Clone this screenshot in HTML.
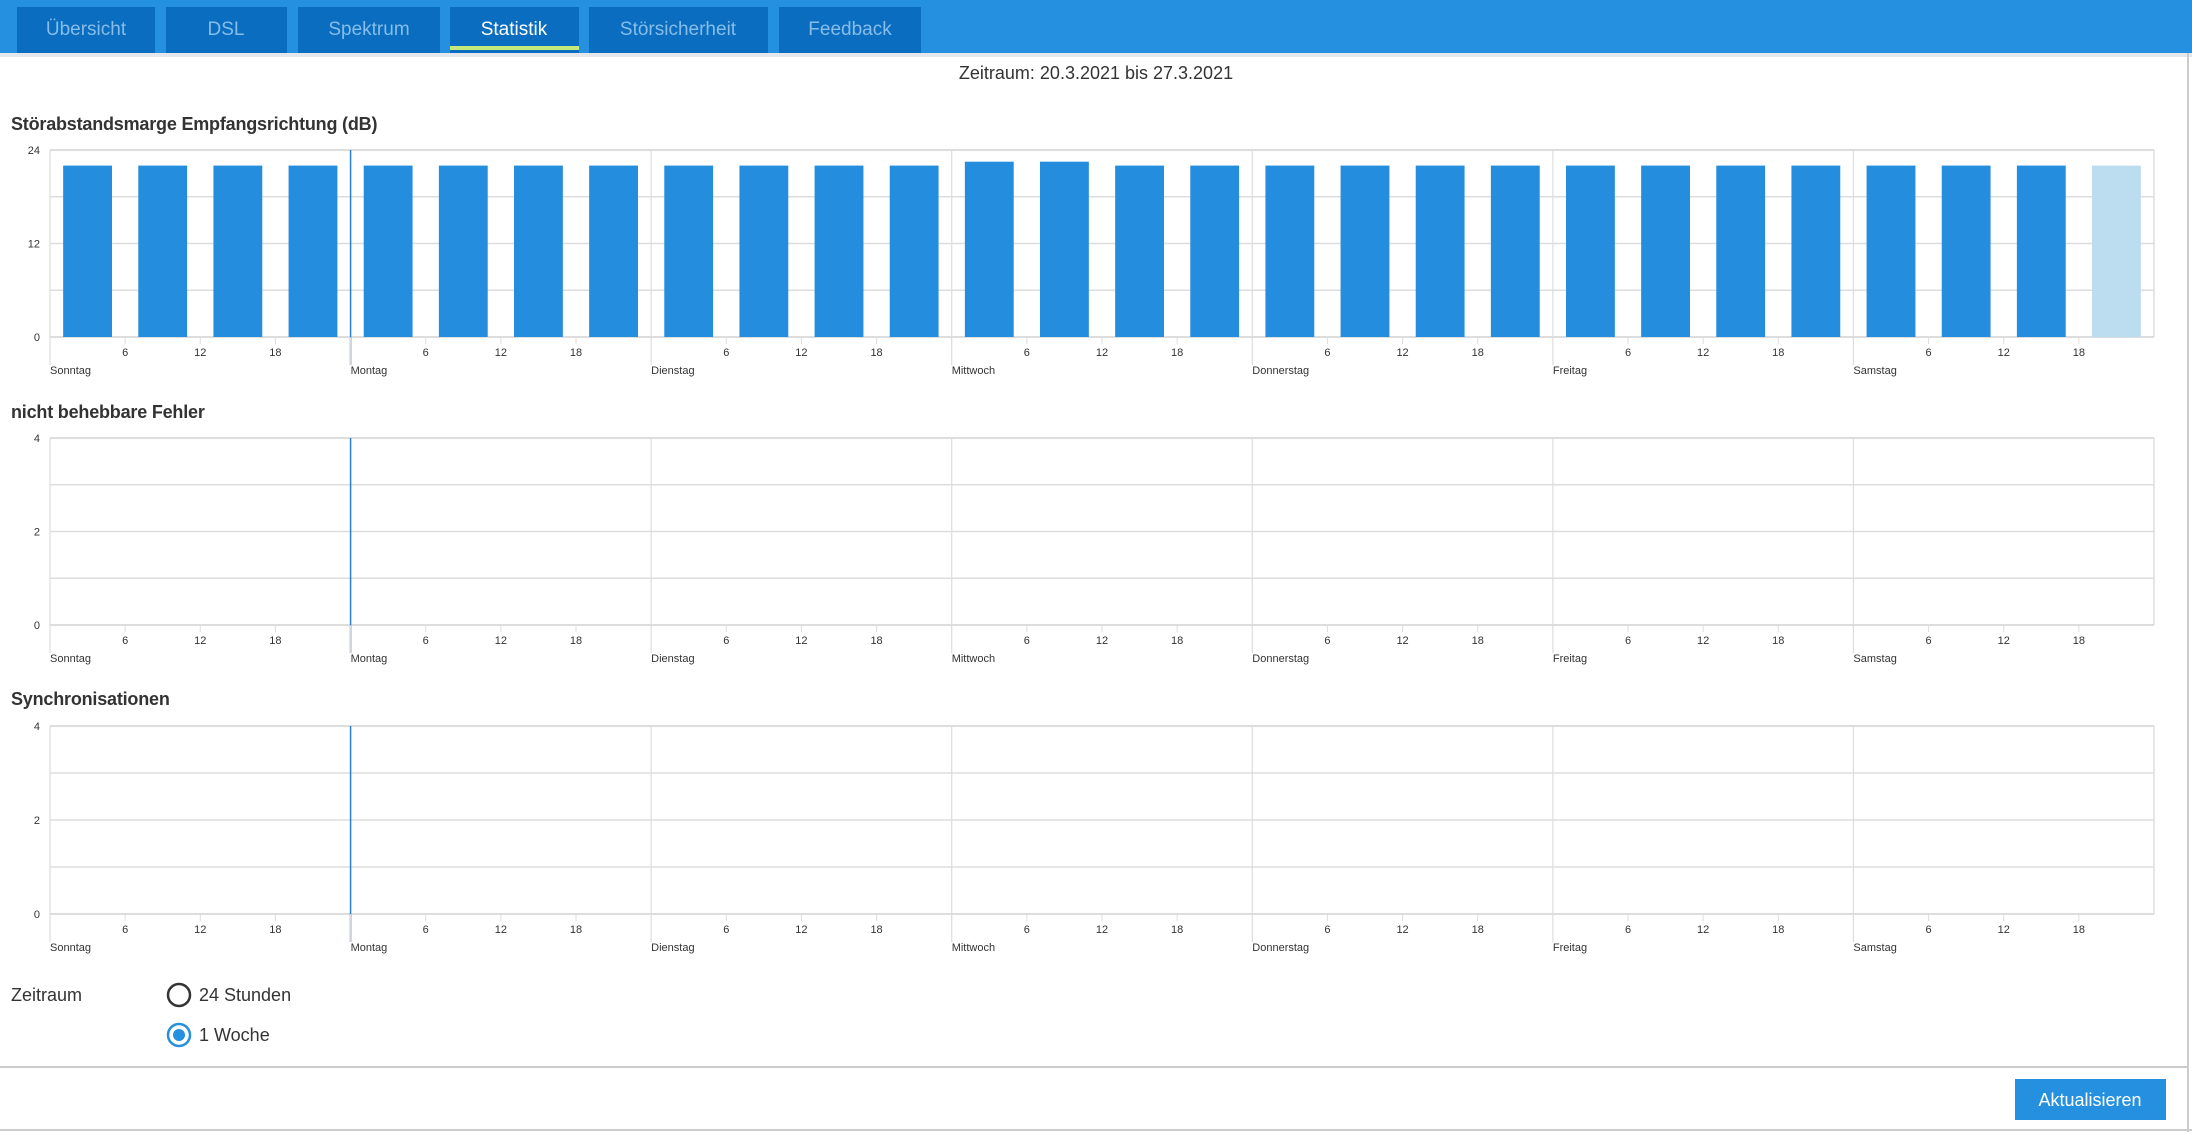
<!DOCTYPE html>
<html><head><meta charset="utf-8"><style>
body{margin:0;width:2192px;height:1132px;overflow:hidden;background:#fff;font-family:"Liberation Sans",sans-serif}
</style></head><body>
<svg width="2192" height="1132" xmlns="http://www.w3.org/2000/svg" font-family="Liberation Sans, sans-serif">
<rect x="0" y="0" width="2192" height="53" fill="#2590df"/>
<rect x="0" y="53" width="2192" height="4" fill="#e4e8ec"/>
<g fill="#0a6dbf">
<rect x="17" y="7" width="138" height="46"/><rect x="166" y="7" width="121" height="46"/>
<rect x="298" y="7" width="142" height="46"/><rect x="450" y="7" width="129" height="46"/>
<rect x="589" y="7" width="179" height="46"/><rect x="779" y="7" width="142" height="46"/>
</g>
<rect x="450" y="46" width="129" height="4" fill="#c5e87a"/>
<g font-size="19" fill="#86bde9" text-anchor="middle">
<text x="86" y="35">Übersicht</text><text x="226" y="35">DSL</text><text x="369" y="35">Spektrum</text>
<text x="514" y="35" fill="#fff">Statistik</text><text x="678" y="35">Störsicherheit</text><text x="850" y="35">Feedback</text>
</g>
<text x="1096" y="79" font-size="18" fill="#333" text-anchor="middle">Zeitraum: 20.3.2021 bis 27.3.2021</text>
<line x1="2188" y1="53" x2="2188" y2="1132" stroke="#ccc" stroke-width="2"/>
<g font-size="18" font-weight="bold" fill="#333" letter-spacing="-0.2">
<text x="11" y="130">Störabstandsmarge Empfangsrichtung (dB)</text>
<text x="11" y="418">nicht behebbare Fehler</text>
<text x="11" y="705">Synchronisationen</text>
</g>
<g id="charts"></g>
<text x="11" y="1001" font-size="18" fill="#333">Zeitraum</text>
<circle cx="179" cy="995" r="11" fill="none" stroke="#333" stroke-width="2.5"/>
<text x="199" y="1001" font-size="18" fill="#333">24 Stunden</text>
<circle cx="179" cy="1035" r="11" fill="none" stroke="#2590df" stroke-width="2.5"/>
<circle cx="179" cy="1035" r="6" fill="#2590df"/>
<text x="199" y="1041" font-size="18" fill="#333">1 Woche</text>
<line x1="0" y1="1067" x2="2188" y2="1067" stroke="#ccc" stroke-width="2"/>
<rect x="2015" y="1079" width="151" height="41" fill="#2590df"/>
<text x="2090" y="1106" font-size="18" fill="#fff" text-anchor="middle">Aktualisieren</text>
<line x1="0" y1="1130" x2="2192" y2="1130" stroke="#ccc" stroke-width="2"/>
</svg>
<script>
var ns="http://www.w3.org/2000/svg",g=document.getElementById("charts");
function el(t,a,txt){var e=document.createElementNS(ns,t);for(var k in a)e.setAttribute(k,a[k]);if(txt!==undefined)e.textContent=txt;g.appendChild(e);return e;}
var X0=50,X1=2154,DW=(X1-X0)/7,days=["Sonntag","Montag","Dienstag","Mittwoch","Donnerstag","Freitag","Samstag"];
var charts=[[150,337,["24","12","0"],true],[438,625,["4","2","0"],false],[726,914,["4","2","0"],false]];
charts.forEach(function(c){
 var t=c[0],b=c[1],h=b-t;
 for(var i=0;i<5;i++){var y=t+h*i/4;el("line",{x1:X0,x2:X1,y1:y,y2:y,stroke:"#ddd","stroke-width":i==0||i==4?2:1.5});}
 el("line",{x1:X1,x2:X1,y1:t,y2:b,stroke:"#ddd","stroke-width":1.5});
 for(var i=0;i<3;i++)el("text",{x:40,y:t+h*i/2+4,"font-size":11,fill:"#333","text-anchor":"end"},c[2][i]);
 for(var d=0;d<7;d++){
  var dx=X0+d*DW;
  el("line",{x1:dx,x2:dx,y1:t,y2:b+28,stroke:d==1?"#2a7fd0":"#ddd","stroke-width":d==1?1.5:1.2});
  if(d==1)el("line",{x1:dx,x2:dx,y1:b,y2:b+28,stroke:"#ddd"});
  el("text",{x:dx,y:b+37,"font-size":11,fill:"#333"},days[d]);
  for(var k=1;k<4;k++){var tx=dx+k*DW/4;el("line",{x1:tx,x2:tx,y1:b,y2:b+7,stroke:"#ddd"});el("text",{x:tx,y:b+19,"font-size":11,fill:"#333","text-anchor":"middle"},String(k*6));}
  if(c[3]){for(var k=0;k<4;k++){var sw=DW/4,bw=sw*0.65,bx=dx+k*sw+(sw-bw)/2,v=(d==3&&k<2)?22.5:22;
   el("rect",{x:bx,y:b-h*v/24,width:bw,height:h*v/24,fill:(d==6&&k==3)?"#bcdcf0":"#258ddd"});}}
 }
});
</script>
</body></html>
